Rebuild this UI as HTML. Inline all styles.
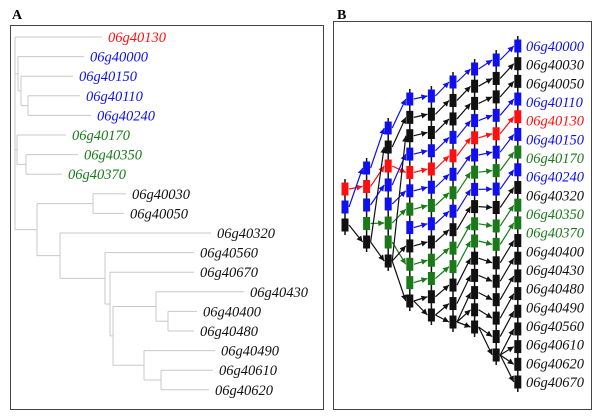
<!DOCTYPE html>
<html><head><meta charset="utf-8"><style>
html,body{margin:0;padding:0;background:#fff;width:600px;height:416px;overflow:hidden}
svg{display:block}
text{font-family:"Liberation Serif","Times New Roman",serif}
</style></head><body>
<svg id="fig" width="600" height="416">
<text x="12" y="19" font-size="14" font-weight="bold" font-family="Liberation Serif, serif">A</text>
<text x="337" y="19" font-size="14" font-weight="bold" font-family="Liberation Serif, serif">B</text>
<rect x="10.5" y="25.5" width="313" height="384" fill="none" stroke="#444" stroke-width="1"/>
<rect x="333.5" y="21.5" width="258" height="388" fill="none" stroke="#444" stroke-width="1"/>
<g id="ga"></g><g id="gb"></g>
</svg>
<script>
// Panel A tree data
const leafNames=["06g40130","06g40000","06g40150","06g40110","06g40240","06g40170","06g40350","06g40370","06g40030","06g40050","06g40320","06g40560","06g40670","06g40430","06g40400","06g40480","06g40490","06g40610","06g40620"];
const leafColors=["r","b","b","b","b","g","g","g","k","k","k","k","k","k","k","k","k","k","k"];
const leafDepth=[108,90,79,86,97,72,84,68,132,130,217,200,200,250,203,200,221,219,215];
const nodeDepth={n0:15,n1:18,n2:21,n3:28,n4:17,n5:26,n6:37,n7:93,n8:60,n9:105,n10:110,n11:113,n12:156,n13:168,n14:144,n15:161};
const nodeKids={n0:[0,"n1","n4","n6"],n1:[1,"n2"],n2:[2,"n3"],n3:[3,4],n4:[5,"n5"],n5:[6,7],n6:["n7","n8"],n7:[8,9],n8:[10,"n9"],n9:[11,"n10"],n10:[12,"n11"],n11:["n12","n14"],n12:[13,"n13"],n13:[14,15],n14:[16,"n15"],n15:[17,18]};
const colMap={r:"#ff1010",b:"#1010ee",g:"#1a7a1a",k:"#111"};
const NS="http://www.w3.org/2000/svg";
const FONT="Liberation Serif, Times New Roman, serif";
function mk(tag,attrs,parent){const e=document.createElementNS(NS,tag);for(const k in attrs)e.setAttribute(k,attrs[k]);parent.appendChild(e);return e;}
const ga=document.getElementById('ga');
const rowY=i=>37+i*19.6;
function yOf(id){if(typeof id==="number")return rowY(id);const ys=nodeKids[id].map(yOf);return (Math.min(...ys)+Math.max(...ys))/2;}
function xOf(id){return typeof id==="number"?leafDepth[id]-6:nodeDepth[id];}
for(const id in nodeKids){
  const x=nodeDepth[id];const ys=nodeKids[id].map(yOf);
  const v=mk('line',{x1:x,x2:x,y1:Math.min(...ys),y2:Math.max(...ys),stroke:"#c8c8c8","stroke-width":1},ga);
  
  nodeKids[id].forEach(c=>{const y=yOf(c);
    const h=mk('line',{x1:x,x2:xOf(c),y1:y,y2:y,stroke:"#c8c8c8","stroke-width":1},ga);
    });
}
leafNames.forEach((n,i)=>{const t=mk('text',{x:leafDepth[i],y:rowY(i)+5,"font-size":"14.5","font-style":"italic","font-family":FONT,fill:colMap[leafColors[i]]},ga);t.textContent=n;
  });

// Panel B data
const colSeq=["rbk","brbgk","bkrbbggk","bkkbrbgbkggk","bkkbrbgbkggkk","bkkbrbgbkggkkk","bkkbrbgbkggkkkkk","bkkbrbgbkggkkkkkk","bkkbrbgbkggkkkkkkkkk"];
const colTop=[189,168,128,99,96,82,69,60,46];
const colBot=[225,242,261,301,315,322,327,355,382];
const gb=document.getElementById('gb');
mk('defs',{},gb).innerHTML=['r','b','g','k'].map(c=>`<marker id="a${c}" viewBox="0 0 6 6" refX="6" refY="3" markerWidth="5" markerHeight="5" orient="auto"><path d="M0,0L6,3L0,6z" fill="${colMap[c]}"/></marker>`).join('');
const colX=k=>345+k*21.6;
function boxY(k,i){const n=colSeq[k].length;return n<2?colTop[k]:colTop[k]+(colBot[k]-colTop[k])*i/(n-1);}
for(let k=0;k<colSeq.length-1;k++){
  const cnt={};
  const a=colSeq[k],b=colSeq[k+1];
  const idxB={};for(let j=0;j<b.length;j++){(idxB[b[j]]=idxB[b[j]]||[]).push(j);}
  for(let i=0;i<a.length;i++){const c=a[i];cnt[c]=(cnt[c]||0);const list=idxB[c]||[];
    const j=list[Math.min(cnt[c],list.length-1)];cnt[c]++;
    if(j!==undefined){const l=mk('line',{x1:colX(k)+4,y1:boxY(k,i),x2:colX(k+1)-4,y2:boxY(k+1,j),stroke:colMap[c],"stroke-width":1.2,"marker-end":`url(#a${c})`},gb);
      }
  }
  const kb=(idxB.k||[]);const ka=(a.match(/k/g)||[]).length;
  for(let m=ka;m<kb.length;m++){const j=kb[m];const i=a.lastIndexOf('k');if(i<0)break;
    const l=mk('line',{x1:colX(k)+4,y1:boxY(k,i),x2:colX(k+1)-4,y2:boxY(k+1,j),stroke:"#111","stroke-width":1.2,"marker-end":"url(#ak)"},gb);
    }
}
colSeq.forEach((s,k)=>{const x=colX(k);
  const v=mk('line',{x1:x,x2:x,y1:colTop[k]-10,y2:colBot[k]+10,stroke:"#111","stroke-width":1.5},gb);
  
  for(let i=0;i<s.length;i++){const r=mk('rect',{x:x-3.5,y:boxY(k,i)-6.5,width:7,height:13,fill:colMap[s[i]]},gb);
    }
});
const finalNames=["06g40000","06g40030","06g40050","06g40110","06g40130","06g40150","06g40170","06g40240","06g40320","06g40350","06g40370","06g40400","06g40430","06g40480","06g40490","06g40560","06g40610","06g40620","06g40670"];
const last=colSeq.length-1;
finalNames.forEach((n,i)=>{const c=colSeq[last][i]||'k';
  const y=46+i*(382-46)/(finalNames.length-1);
  const t=mk('text',{x:526,y:y+5,"font-size":"14.5","font-style":"italic","font-family":FONT,fill:colMap[c]},gb);t.textContent=n;
  });
</script>
</body></html>
